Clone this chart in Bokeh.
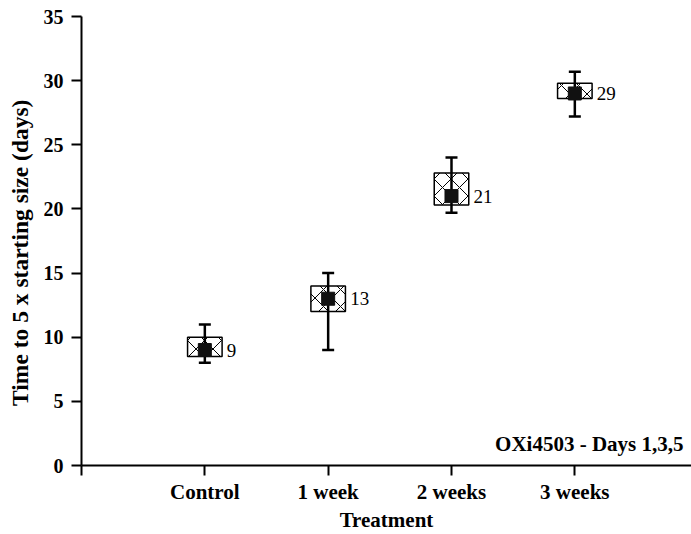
from bokeh.plotting import figure
from bokeh.models import Range1d, FixedTicker, Label, ColumnDataSource
from bokeh.core.properties import value
from bokeh.embed import file_html
from bokeh.resources import INLINE

# ---- data ----
categories = ["Control", "1 week", "2 weeks", "3 weeks"]
positions = [1, 2, 3, 4]
medians = [9, 13, 21, 29]
box_low = [8.5, 12, 20.3, 28.6]
box_high = [10, 14, 22.8, 29.8]
whisk_low = [8, 9, 19.7, 27.2]
whisk_high = [11, 15, 24, 30.7]
value_labels = ["9", "13", "21", "29"]
y_ticks = [0, 5, 10, 15, 20, 25, 30, 35]
x_ticks = [0, 1, 2, 3, 4]

FONT = "Liberation Serif"

src = ColumnDataSource(dict(x=positions, med=medians, lo=box_low, hi=box_high,
                            wl=whisk_low, wh=whisk_high, lab=value_labels))

p = figure(width=691, height=534, output_backend="svg", toolbar_location=None,
           x_range=Range1d(0, 4.946), y_range=Range1d(0, 35),
           min_border_left=81, min_border_right=0, min_border_top=16, min_border_bottom=68)
p.outline_line_color = None
p.xgrid.visible = False
p.ygrid.visible = False
p.background_fill_color = "white"
p.border_fill_color = "white"

# boxes with cross hatch
p.vbar(x="x", width=0.28, bottom="lo", top="hi", source=src,
       fill_color="white", line_color="black", line_width=1.5,
       hatch_pattern="diagonal_cross", hatch_scale=17, hatch_weight=1, hatch_color="black")
# whiskers
p.segment(x0="x", y0="wl", x1="x", y1="wh", source=src, line_color="black", line_width=2.5)
p.scatter(x="x", y="wl", source=src, marker="dash", size=12, line_color="black", line_width=2.5)
p.scatter(x="x", y="wh", source=src, marker="dash", size=12, line_color="black", line_width=2.5)
# central marker
p.scatter(x="x", y="med", source=src, marker="square", size=13,
          fill_color="#111111", line_color="#111111")
# value labels
p.text(x="x", y="med", text="lab", source=src, x_offset=22,
       text_baseline="middle", text_align="left",
       text_font=value(FONT), text_font_size="19px", text_color="black")

# axes
for ax in (p.xaxis, p.yaxis):
    ax.axis_line_width = 2
    ax.axis_line_color = "black"
    ax.major_tick_line_width = 2
    ax.major_tick_line_color = "black"
    ax.major_tick_out = 10
    ax.major_tick_in = 0
    ax.minor_tick_line_color = None
    ax.major_label_text_font = FONT
    ax.major_label_text_font_style = "bold"
    ax.major_label_text_color = "black"
    ax.axis_label_text_font = FONT
    ax.axis_label_text_font_style = "bold"
    ax.axis_label_text_color = "black"

p.yaxis.ticker = FixedTicker(ticks=y_ticks)
p.yaxis.major_label_text_font_size = "20px"
p.yaxis.major_label_standoff = 8
p.yaxis.axis_label = "Time to 5 x starting size (days)" + "\u00a0" * 4
p.yaxis.axis_label_text_font_size = "23.5px"
p.yaxis.axis_label_standoff = 8

p.xaxis.ticker = FixedTicker(ticks=x_ticks)
p.xaxis.major_label_overrides = {0: ""} | {pos: c for pos, c in zip(positions, categories)}
p.xaxis.major_label_text_font_size = "21px"
p.xaxis.major_label_standoff = 4
p.xaxis.axis_label = "Treatment"
p.xaxis.axis_label_text_font_size = "21px"
p.xaxis.axis_label_text_baseline = "middle"
p.xaxis.axis_label_standoff = 1

p.add_layout(Label(x=4.946, y=0, x_offset=-8, y_offset=22, text="OXi4503 - Days 1,3,5",
                   text_align="right", text_baseline="alphabetic", text_font=FONT,
                   text_font_style="bold", text_font_size="21px", text_color="black"))

open("out.html", "w").write(file_html(p, INLINE))
